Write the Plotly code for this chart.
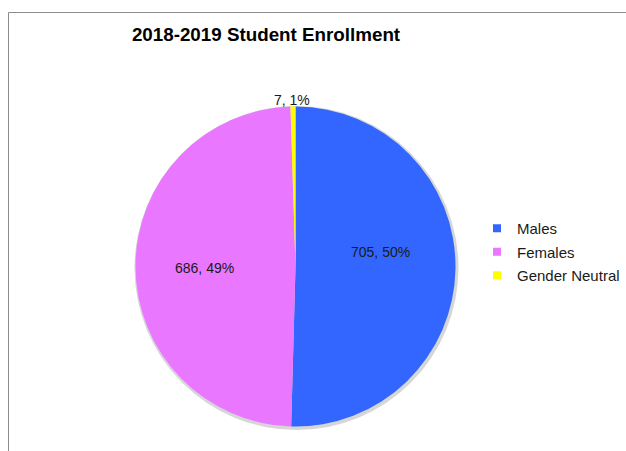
import math
import plotly.graph_objects as go

# Enrollment counts by gender
categories = ["Males", "Females", "Gender Neutral"]
counts = [705, 686, 7]
colors = ["#3366FF", "#EA77FF", "#FFFF00"]

W, H = 626, 451
FONT = "Liberation Sans, Arial, sans-serif"

# Pie placement in pixels (centre and radius), converted to paper domain
cx, cy, r = 295.5, 266.5, 160

dom_x = [(cx - r) / W, (cx + r) / W]
dom_y = [1 - (cy + r) / H, 1 - (cy - r) / H]

# Data-label placement: fraction of the radius and angular nudge (degrees)
label_radius = [0.54, 0.566, 1.04]
label_nudge = [-10.4, -0.9, -0.3]

fig = go.Figure()

# soft shadow disc behind the pie
sr = r + 2
fig.add_trace(go.Pie(
    values=[1],
    labels=["shadow"],
    marker=dict(colors=["rgba(0,0,0,0.16)"], line=dict(width=0)),
    domain=dict(x=[(cx + 1 - sr) / W, (cx + 1 + sr) / W],
                y=[1 - (cy + 1.5 + sr) / H, 1 - (cy + 1.5 - sr) / H]),
    textinfo="none",
    hoverinfo="skip",
    showlegend=False,
    sort=False,
))

fig.add_trace(go.Pie(
    labels=categories,
    values=counts,
    marker=dict(colors=colors, line=dict(width=0)),
    sort=False,
    direction="clockwise",
    rotation=0,
    domain=dict(x=dom_x, y=dom_y),
    textinfo="none",
    hovertemplate="%{label}: %{value} (%{percent})<extra></extra>",
    showlegend=False,
))

# Legend entries with small square keys
for name, col in zip(categories, colors):
    fig.add_trace(go.Scatter(
        x=[None], y=[None], mode="markers", name=name, legendgroup=name,
        marker=dict(symbol="square", size=8, color=col),
        hoverinfo="skip",
    ))

# "value, percent" labels at each slice
total = sum(counts)
annotations = []
start = 0.0
for v, rf, nd in zip(counts, label_radius, label_nudge):
    mid = (start + v / 2) / total * 360 + nd
    start += v
    px = cx + rf * r * math.sin(math.radians(mid))
    py = cy - rf * r * math.cos(math.radians(mid))
    annotations.append(dict(
        x=px / W, y=1 - py / H, xref="paper", yref="paper",
        text=f"{v}, {round(100 * v / total)}%",
        showarrow=False, xanchor="center", yanchor="middle",
        font=dict(family=FONT, size=14, color="#1a1a1a"),
    ))

fig.update_layout(
    width=W,
    height=H,
    margin=dict(l=0, r=0, t=0, b=0),
    paper_bgcolor="white",
    plot_bgcolor="rgba(0,0,0,0)",
    xaxis=dict(visible=False),
    yaxis=dict(visible=False),
    title=dict(
        text="<b>2018-2019 Student Enrollment</b>",
        x=266 / W,
        xanchor="center",
        y=1 - 34 / H,
        yanchor="middle",
        font=dict(family=FONT, size=18.8, color="#000000"),
    ),
    legend=dict(
        x=477 / W,
        y=1 - 252 / H,
        xanchor="left",
        yanchor="middle",
        traceorder="grouped",
        tracegroupgap=1,
        font=dict(family=FONT, size=15, color="#1a1a1a"),
        bgcolor="rgba(0,0,0,0)",
        itemclick=False,
        itemdoubleclick=False,
    ),
    annotations=annotations,
    shapes=[
        # chart frame (runs past the right and bottom edges)
        dict(type="rect", xref="paper", yref="paper",
             x0=8.5 / W, x1=1.2, y0=-0.2, y1=1 - 12.5 / H,
             line=dict(color="#8c8c8c", width=1), fillcolor="rgba(0,0,0,0)",
             layer="below"),
    ],
)

fig.write_html("out.html")
